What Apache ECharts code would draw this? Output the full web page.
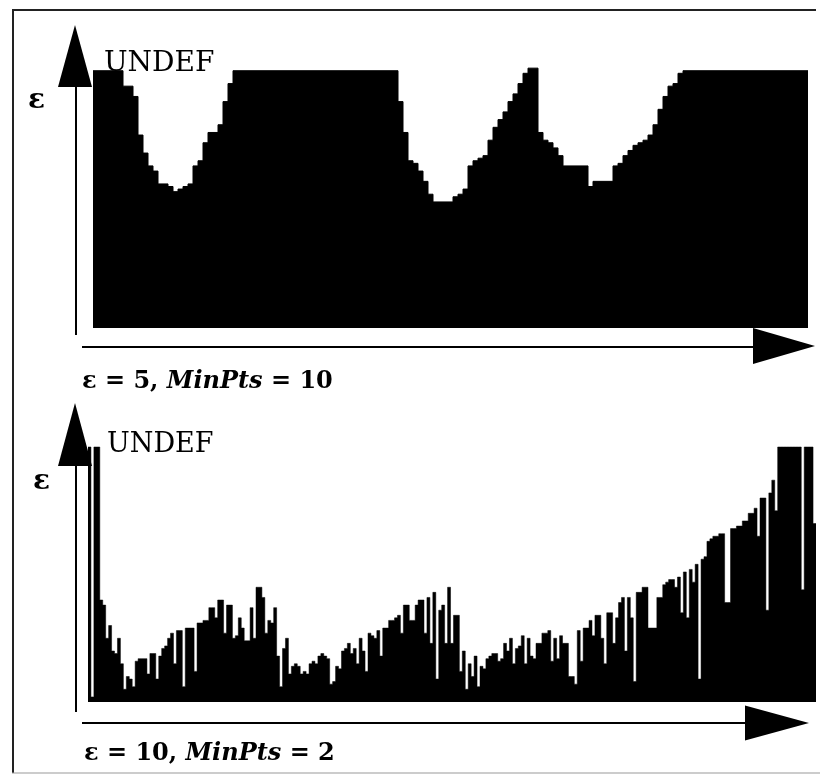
<!DOCTYPE html>
<html>
<head>
<meta charset="utf-8">
<script src="https://cdn.jsdelivr.net/npm/echarts@6/dist/echarts.min.js"></script>
<style>
html,body{margin:0;padding:0;background:#fff;}
#chart{width:820px;height:774px;}
</style>
</head>
<body>
<div id="chart"></div>
<script>
// Reachability values (UNDEF drawn at 100)
const UNDEF = 100;
const reachTop = [
  100,100,100,100,100,100,94,94,90,75,
  68,63,61,56,56,55,53,54,55,56,
  63,65,72,76,76,79,88,95,100,100,
  100,100,100,100,100,100,100,100,100,100,
  100,100,100,100,100,100,100,100,100,100,
  100,100,100,100,100,100,100,100,100,100,
  100,88,76,65,64,61,57,52,49,49,
  49,49,51,52,54,63,65,66,67,73,
  78,81,84,88,91,95,99,101,101,76,
  73,72,70,67,63,63,63,63,63,55,
  57,57,57,57,63,64,67,69,71,72,
  73,75,79,85,90,94,95,99,100,100,
  100,100,100,100,100,100,100,100,100,100,
  100,100,100,100,100,100,100,100,100,100,
  100,100,100
];
const reachBottom = [
  100,2,100,100,40,38,25,30,20,19,25,15,5,10,9,6,16,17,17,17,11,19,19,9,18,21,22,25,27,15,28,28,6,29,29,29,12,31,31,32,32,37,37,33,40,40,27,38,38,25,26,33,29,24,24,37,25,45,45,41,27,
  32,31,37,18,6,21,25,11,14,15,14,11,12,11,15,16,15,18,19,18,17,7,8,14,13,20,21,23,19,21,15,25,20,12,27,26,25,28,18,29,29,32,32,33,34,27,38,38,32,32,38,40,40,27,41,23,43,9,
  36,38,23,45,23,34,34,12,20,5,15,10,18,6,14,13,17,18,19,19,16,17,23,20,25,15,21,22,26,15,25,18,17,23,23,27,27,28,16,25,17,26,23,23,10,10,7,28,16,29,29,32,26,34,34,25,15,35,35,23,33,39,
  41,20,41,33,8,43,43,45,45,29,29,29,41,41,46,47,48,48,45,49,35,51,33,52,47,54,9,56,57,63,64,65,65,66,66,39,39,68,68,69,69,71,71,74,74,76,65,80,80,36,82,87,75,100,100,100,100,100,100,100,100,44,100,100,100,70
];
const labelTop = ['ε = 5, ', 'MinPts', ' = 10'];
const labelBottom = ['ε = 10, ', 'MinPts', ' = 2'];
const undefText = 'UNDEF';
const axisSymbol = 'ε';

function stepData(arr){
  const d = arr.map((v,i)=>[i,v]);
  d.push([arr.length, arr[arr.length-1]]);
  return d;
}

const chart = echarts.init(document.getElementById('chart'));
const serif = '"DejaVu Serif", "Liberation Serif", serif';
const black = '#000';

function arrowUp(x, tipY, baseY, half){ return {type:'polygon', shape:{points:[[x,tipY],[x-half,baseY],[x+half,baseY]]}, style:{fill:black}}; }
function arrowRight(tipX, y, baseX, half){ return {type:'polygon', shape:{points:[[tipX,y],[baseX,y-half],[baseX,y+half]]}, style:{fill:black}}; }
function line(x1,y1,x2,y2,w,c){ return {type:'line', shape:{x1,y1,x2,y2}, style:{stroke:c||black, lineWidth:w}}; }
function txt(x,y,text,font){ return {type:'text', x:x, y:y, style:{text:text, font:font, fill:black, textAlign:'left', align:'left', textVerticalAlign:'middle', verticalAlign:'middle'}}; }
function richTxt(x,y,parts){
  return {type:'text', x:x, y:y, style:{
    text:'{b|'+parts[0]+'}{i|'+parts[1]+'}{b|'+parts[2]+'}',
    rich:{b:{font:'bold 24px '+serif, fill:black}, i:{font:'italic bold 24px '+serif, fill:black}},
    fill:black, textAlign:'left', align:'left', textVerticalAlign:'middle', verticalAlign:'middle'}};
}

const option = {
  animation:false,
  backgroundColor:'#fff',
  grid:[
    {left:93, top:45, width:715, height:283},
    {left:88, top:421.5, width:728, height:280.5}
  ],
  xAxis:[
    {gridIndex:0, type:'value', min:0, max:reachTop.length, show:false},
    {gridIndex:1, type:'value', min:0, max:reachBottom.length, show:false}
  ],
  yAxis:[
    {gridIndex:0, type:'value', min:0, max:110, show:false},
    {gridIndex:1, type:'value', min:0, max:110, show:false}
  ],
  series:[
    {type:'line', xAxisIndex:0, yAxisIndex:0, step:'end', symbol:'none', data:stepData(reachTop),
     lineStyle:{color:black, width:1}, areaStyle:{color:black, opacity:1}, silent:true},
    {type:'line', xAxisIndex:1, yAxisIndex:1, step:'end', symbol:'none', data:stepData(reachBottom),
     lineStyle:{color:black, width:0.5}, areaStyle:{color:black, opacity:1}, silent:true}
  ],
  graphic:[
    // frame
    line(12,10,816,10,2,'#222'),
    line(13,10,13,773,2,'#222'),
    line(12,773,820,773,1,'#999'),
    // top axes
    line(76,86,76,335,2),
    arrowUp(75,25,87,17),
    line(82,347,758,347,2),
    arrowRight(815,346,753,18),
    // bottom axes
    line(76,465,76,712,2),
    arrowUp(75,403,466,17),
    line(82,723,750,723,2),
    arrowRight(809,723,745,17.5),
    // texts
    txt(28,101,axisSymbol,'bold 28px '+serif),
    txt(104,64,undefText,'28px '+serif),
    richTxt(82,382,labelTop),
    txt(33,482,axisSymbol,'bold 28px '+serif),
    txt(107,445,undefText,'27px '+serif),
    richTxt(84,754,labelBottom)
  ]
};
chart.setOption(option);
</script>
</body>
</html>
